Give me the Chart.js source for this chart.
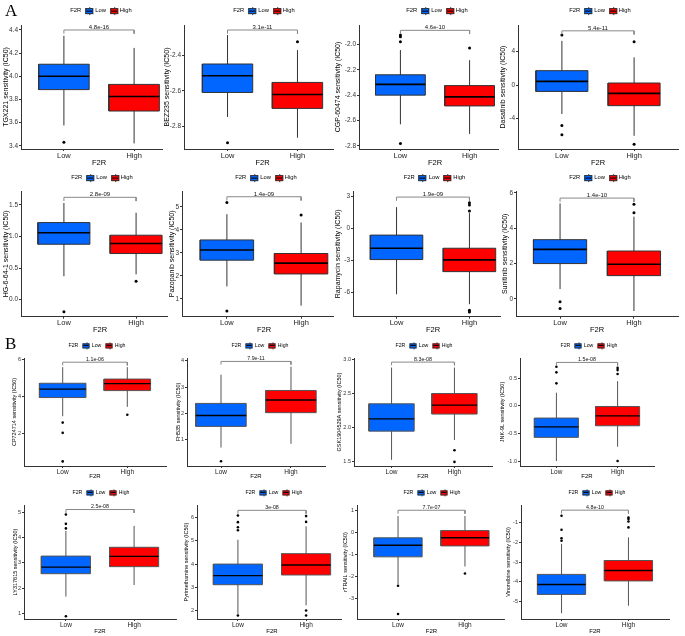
<!DOCTYPE html>
<html><head><meta charset="utf-8">
<script src="https://cdn.jsdelivr.net/npm/chart.js@4.4.1/dist/chart.umd.min.js"></script>
<style>
body{margin:0;background:#fff;width:685px;height:636px;position:relative;overflow:hidden;font-family:"Liberation Sans",Arial,sans-serif}
canvas{position:absolute;background:#fff}
.leg{position:absolute;display:flex;align-items:center;white-space:nowrap;transform:translate(-50%,-50%);color:#000;z-index:30;line-height:1}
.key{display:inline-block;position:relative;border:1px solid #333;box-sizing:border-box}
.key::after{content:"";position:absolute;left:0;right:0;top:50%;border-top:1px solid #000;transform:translateY(-50%)}
.key::before{content:"";position:absolute;left:50%;top:-2px;bottom:-2px;border-left:1px solid #333;z-index:-1}
.lab{position:absolute;font-family:"Liberation Serif","Times New Roman",serif;font-size:17px;line-height:1;z-index:30}
</style></head><body>
<div class="lab" style="left:5px;top:2px">A</div>
<div class="lab" style="left:5px;top:335px">B</div>
<script>
// ---------------- data ----------------
const drugs = ["TGX221","BEZ235","CGP-60474","Dasatinib","HG-6-64-1","Pazopanib","Rapamycin","Sunitinib",
  "CP724714","FH535","GSK1904529A","JNK-9L","LY317615","Pyrimethamine","rTRAIL","Vinorelbine"];
const groups = ["Low","High"];
const groupColors = ["#0066FF","#FF0000"];
const pValues = ["4.8e-16","3.1e-11","4.6e-10","5.4e-11","2.8e-09","1.4e-09","1.9e-09","1.4e-10",
  "1.1e-06","7.9e-11","8.3e-08","1.5e-08","2.5e-08","3e-08","7.7e-07","4.8e-10"];
const yTickLabels = [
  ["3.4","3.6","3.8","4.0","4.2","4.4"],["-2.8","-2.6","-2.4"],["-2.8","-2.6","-2.4","-2.2","-2.0"],["-4","0","4"],
  ["0.0","0.5","1.0","1.5"],["1","2","3","4","5"],["-6","-3","0","3"],["0","2","4","6"],
  ["2","4","6"],["1","2","3","4"],["1.5","2.0","2.5","3.0"],["-1.0","-0.5","0.0","0.5"],
  ["1","2","3","4","5"],["2","3","4","5","6"],["-3","-2","-1","0","1"],["-5","-4","-3","-2","-1"]];
const yMin = [3.372,-2.925,-2.824,-7.68,-0.27,0.22,-8.3,-1.0,0.2,0.01,1.44,-1.09,0.77,1.63,-3.94,-5.87];
const yMax = [4.443,-2.232,-1.848,7.2,1.72,5.69,3.47,6.1,6.1,4.1,3.02,0.87,5.3,6.55,1.27,-0.12];
// [lower whisker, Q1, median, Q3, upper whisker]
const lowStats = [
  [3.575,3.885,4.0,4.104,4.35],[-2.746,-2.609,-2.516,-2.45,-2.288],[-2.63,-2.40,-2.315,-2.24,-2.045],[-3.48,-0.77,0.43,1.72,5.3],
  [0.37,0.877,1.06,1.22,1.53],[1.54,2.68,3.12,3.56,4.68],[-6.2,-2.95,-1.89,-0.66,1.96],[0.56,2.0,2.8,3.35,5.4],
  [2.92,3.94,4.4,4.72,5.6],[0.71,1.51,1.92,2.38,3.47],[1.53,1.95,2.13,2.35,2.88],[-1.0,-0.57,-0.38,-0.22,0.24],
  [1.66,2.57,2.83,3.27,4.27],[1.85,3.11,3.5,4.0,5.05],[-2.35,-1.1,-0.57,-0.23,0.77],[-5.58,-4.63,-4.13,-3.62,-2.08]];
const highStats = [
  [3.42,3.70,3.825,3.93,4.245],[-2.862,-2.698,-2.620,-2.553,-2.372],[-2.705,-2.485,-2.414,-2.325,-2.125],[-6.1,-2.48,-1.0,0.24,3.32],
  [0.40,0.73,0.89,1.02,1.376],[0.7,2.08,2.55,2.97,4.32],[-7.13,-4.08,-2.98,-1.89,1.4],[-0.68,1.32,1.96,2.71,4.65],
  [3.43,4.32,4.7,4.95,5.6],[0.85,2.03,2.51,2.87,3.77],[1.82,2.2,2.33,2.5,2.88],[-0.74,-0.36,-0.18,-0.01,0.45],
  [2.12,2.85,3.26,3.62,4.47],[2.22,3.53,3.96,4.45,5.63],[-1.54,-0.6,-0.23,0.1,0.77],[-5.2,-3.95,-3.42,-2.92,-1.75]];
const lowOutliers = [[3.43],[-2.89],[-1.927,-1.94,-1.98,-2.78],[6.0,-4.85,-5.96],
  [-0.19],[5.19,0.47],[],[-0.15,-0.53],
  [2.57,2.01,0.45],[0.19],[],[0.71,0.61,0.41],
  [4.92,4.55,4.37,0.88],[6.1,5.81,5.59,5.46,1.78],[-2.42,-3.71],[-0.66,-1.37,-1.8,-1.92]];
const highOutliers = [[],[-2.325],[-2.03],[5.2,-7.1],
  [0.29],[4.65],[2.38,2.15,1.6,-7.7,-7.85],[5.35,4.87],
  [3.0],[],[1.67,1.5],[0.69,0.65,0.58,-1.0],
  [],[6.07,5.82,2.0,1.78],[-1.86],[-0.75,-0.83,-0.95,-1.25]];
const bracketY = [4.40,-2.26,-1.89,6.5,1.62,5.44,2.9,5.7,5.87,3.97,2.96,0.79,5.12,6.32,1.03,-0.38];

// ---------------- layout ----------------
const rows = [
  {top:25, axis:149, f2r:162, legend:11, tick:6.5, title:7, cat:7.5, f2rSize:7.5, p:6, leg:5.8, key:[8,5.5], gap:3, line:'#333', med:1.6},
  {top:191, axis:316.7, f2r:329, legend:178, tick:6.5, title:7, cat:7.5, f2rSize:7.5, p:6, leg:5.8, key:[8,5.5], gap:3, line:'#333', med:1.6},
  {top:358, axis:466, f2r:476, legend:345.7, tick:5.5, title:5.5, cat:6.5, f2rSize:6, p:5.3, leg:5.2, key:[7.5,5], gap:3, line:'#555', med:1.4},
  {top:505, axis:619, f2r:631.7, legend:492.7, tick:5.5, title:5.5, cat:6.5, f2rSize:6, p:5.3, leg:5.2, key:[7.5,5], gap:3, line:'#555', med:1.4}];
// [axis left, Low centre, High centre, y-title centre x, legend centre x]
const panels = [
  [21,65,137,5.7,101],[184,228.5,300,167,264],[359,401.5,472.5,338,437],[518,563,637,503,600],
  [21,65,139,5.7,102],[182,228,304,172,266],[353,397.5,472,338,434.5],[516,561,636.5,505,600],
  [24,63.7,130,14.3,97],[187,222,294,178,260],[354,392.5,457,339,424],[520,557.5,620.5,502,589],
  [24,67,137,15,101],[197,239,309,186.7,274],[357,399,467.5,345,432],[521,562.5,631,508,597]];

Chart.defaults.font.family = '"Liberation Sans", Arial, Helvetica, sans-serif';
const FAM = Chart.defaults.font.family;
const plabel = {
  id:'plabel',
  afterDatasetsDraw(chart, args, o){
    const ctx = chart.ctx, xs = chart.scales.x, ys = chart.scales.y;
    ctx.save();
    ctx.font = o.size + 'px ' + FAM;
    ctx.fillStyle = '#111'; ctx.textAlign = 'center'; ctx.textBaseline = 'alphabetic';
    ctx.fillText(o.text, xs.getPixelForValue(1.5), ys.getPixelForValue(o.y) - o.gap);
    ctx.restore();
  }
};
const line = (data, color, width, order, extra) => Object.assign({data, showLine:true, borderColor:color, borderWidth:width,
  pointRadius:0, pointHoverRadius:0, fill:false, tension:0, order}, extra||{});

for (let i=0;i<16;i++){
  const r = rows[Math.floor(i/4)];
  const [L,cL,cH,tX,lX] = panels[i];
  const u = cH-cL, e = (cL-L)/u;
  const R = Math.min(cH + (cL-L), 684);
  const xmin = 1-e, xmax = 1 + (R-cL)/u;
  const tlh = r.title*1.2;
  const left = Math.max(0, Math.round(tX - tlh/2));
  const top = Math.round(r.top) - 10;
  const W = Math.round(R - left);
  const H = Math.round(r.f2r + r.f2rSize*1.2/2 - top);
  const padTop = r.top - top;
  const plotH = r.axis - r.top;
  const xH = H - padTop - plotH;
  const yW = L - left;

  const cv = document.createElement('canvas');
  cv.width = W; cv.height = H;
  cv.style.left = left+'px'; cv.style.top = top+'px';
  cv.style.width = W+'px'; cv.style.height = H+'px';
  cv.style.zIndex = i+1;
  document.body.appendChild(cv);

  const bw = 0.36;
  const stats = [lowStats[i], highStats[i]];
  const outs = [lowOutliers[i], highOutliers[i]];
  const ds = [];
  stats.forEach((s,g)=>{
    const x = g+1;
    ds.push(line([{x,y:s[0]},{x,y:s[4]}], r.line, 1, 4));
    ds.push(line([{x:x-bw,y:s[1]},{x:x+bw,y:s[1]},{x:x+bw,y:s[3]},{x:x-bw,y:s[3]},{x:x-bw,y:s[1]}], r.line, 1, 3,
      {fill:'shape', backgroundColor:groupColors[g]}));
    ds.push(line([{x:x-bw,y:s[2]},{x:x+bw,y:s[2]}], '#000', r.med, 2));
    ds.push({data: outs[g].map(v=>({x,y:v})), showLine:false, pointRadius: i<8?1.5:1.3, pointBackgroundColor:'#000',
      pointBorderColor:'#000', pointBorderWidth:0, order:1, clip:false});
  });
  const tip = 0.03*(yMax[i]-yMin[i]);
  ds.push(line([{x:1,y:bracketY[i]-tip},{x:1,y:bracketY[i]},{x:2,y:bracketY[i]},{x:2,y:bracketY[i]-tip}], '#888', 1, 0));

  const yt = yTickLabels[i];
  new Chart(cv, {
    type:'scatter',
    data:{datasets:ds},
    plugins:[plabel],
    options:{
      responsive:false, animation:false, events:[],
      layout:{padding:{top:padTop, left:0, right:0, bottom:0}},
      plugins:{legend:{display:false}, tooltip:{enabled:false}, plabel:{text:pValues[i], y:bracketY[i], size:r.p, gap:1.2}},
      scales:{
        x:{type:'linear', min:xmin, max:xmax,
          afterBuildTicks:s=>{ s.ticks = groups.map((g,k)=>({value:k+1})); },
          ticks:{callback:v=>groups[Math.round(v)-1], font:{size:r.cat}, color:'#222', padding:0, autoSkip:false, maxRotation:0},
          grid:{display:true, drawOnChartArea:false, drawTicks:true, tickLength:2, color:'#333'},
          border:{display:true, color:'#333', width:1},
          title:{display:true, text:'F2R', font:{size:r.f2rSize}, color:'#000', padding:0},
          afterFit:s=>{ s.height = xH; }},
        y:{type:'linear', min:yMin[i], max:yMax[i],
          afterBuildTicks:s=>{ s.ticks = yt.map(t=>({value:parseFloat(t)})); },
          ticks:{callback:v=>{ const k = yt.findIndex(t=>Math.abs(parseFloat(t)-v)<1e-9); return k>=0?yt[k]:''; },
            font:{size:r.tick}, color:'#333', padding:1},
          grid:{display:true, drawOnChartArea:false, drawTicks:true, tickLength:2, color:'#333'},
          border:{display:true, color:'#333', width:1},
          title:{display:true, text:drugs[i]+' sensitivity (IC50)', font:{size:r.title}, color:'#000', padding:0},
          afterFit:s=>{ s.width = yW; }}
      }
    }
  });

  const lg = document.createElement('div');
  lg.className = 'leg';
  lg.style.left = lX+'px'; lg.style.top = r.legend+'px'; lg.style.fontSize = r.leg+'px';
  const [kw,kh] = r.key;
  let html = '<span>F2R</span>';
  groups.forEach((g,k)=>{
    html += `<span class="key" style="background:${groupColors[k]};width:${kw}px;height:${kh}px;margin:0 ${r.gap-1}px 0 ${r.gap+1}px"></span><span>${g}</span>`;
  });
  lg.innerHTML = html;
  document.body.appendChild(lg);
}
</script>
</body></html>
